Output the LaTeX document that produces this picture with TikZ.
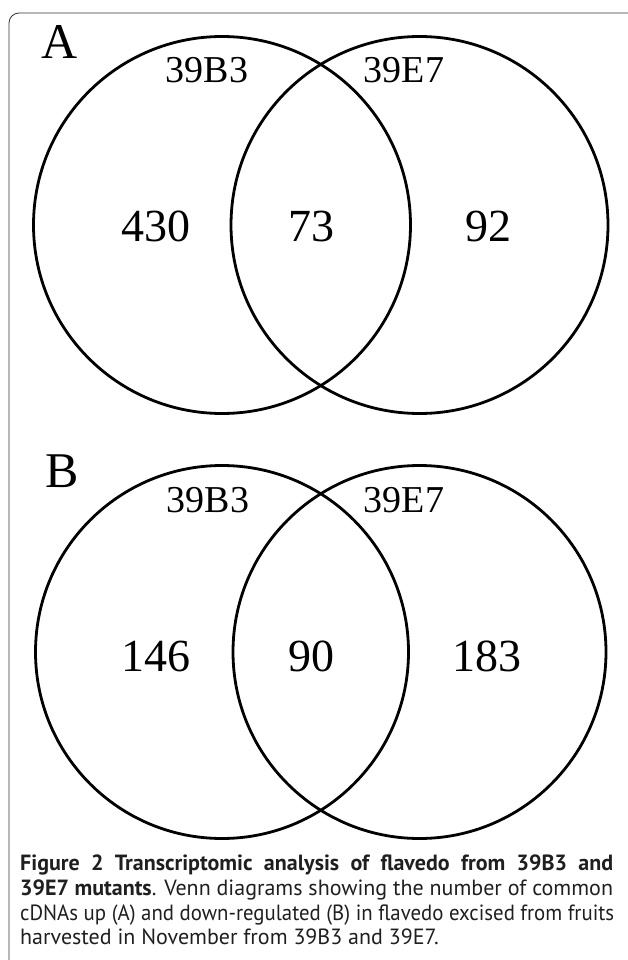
\documentclass[tikz,border=0pt]{standalone}
\usepackage{graphicx}
\usepackage{fontspec}
\setmainfont{Liberation Serif}
\newfontfamily\capfont{PT Sans}
\newlength\capw
\newcommand\justline[2]{\settowidth\capw{#2}\ifdim\capw>#1pt\relax\pgfmathsetmacro\capr{#1/\capw}\scalebox{\capr}[1]{#2}\else\makebox[#1pt][s]{#2}\fi}
\begin{document}
\begin{tikzpicture}[x=1pt,y=-1pt,
  venn/.style={circle, draw, line width=2.8pt, inner sep=0pt, minimum size=#1},
  lbl/.style={font=\fontsize{38}{40}\selectfont, inner sep=0pt},
  num/.style={font=\fontsize{46}{48}\selectfont, inner sep=0pt},
  panel/.style={font=\fontsize{50}{52}\selectfont, inner sep=0pt},
  capline/.style={anchor=base west, inner sep=0pt, text=black!88,
    font=\capfont\fontsize{22}{24}\selectfont},
  frame/.style={line width=0.8pt, draw=black!80, rounded corners=10pt}]
\useasboundingbox (0,0) rectangle (627,960);
\coordinate (fb) at (9,990);
\coordinate (fc) at (9,13);
\coordinate (fr) at (660,13);
\draw[frame] (fb) -- (fc) -- (fr);
% panel A
\node[venn=377pt] (AL) at (222,225) {};
\node[venn=377pt] (AR) at (419.5,225) {};
\node[panel] (pA) at (60,42) {A};
\node[lbl] (a1) at (207,70) {39B3};
\node[lbl] (a2) at (404,70) {39E7};
\node[num] (n430) at (156,226) {430};
\node[num] (n73) at (311,226) {73};
\node[num] (n92) at (488,226) {92};
% panel B
\node[venn=373pt] (BL) at (222,652) {};
\node[venn=373pt] (BR) at (419.5,652) {};
\node[panel] (pB) at (62,471) {B};
\node[lbl] (b1) at (208,500) {39B3};
\node[lbl] (b2) at (404,500) {39E7};
\node[num] (n146) at (156,656) {146};
\node[num] (n90) at (311,656) {90};
\node[num] (n183) at (487,656) {183};
% caption
\node[capline] (c1) at (20,870) {\justline{593}{\bfseries Figure 2 Transcriptomic analysis of flavedo from 39B3 and}};
\node[capline] (c2) at (20,895) {\textbf{39E7 mutants}. Venn diagrams showing the number of common};
\node[capline] (c3) at (20,920) {\justline{594}{cDNAs up (A) and down-regulated (B) in flavedo excised from fruits}};
\node[capline] (c4) at (20,944) {harvested in November from 39B3 and 39E7.};
\end{tikzpicture}
\end{document}
